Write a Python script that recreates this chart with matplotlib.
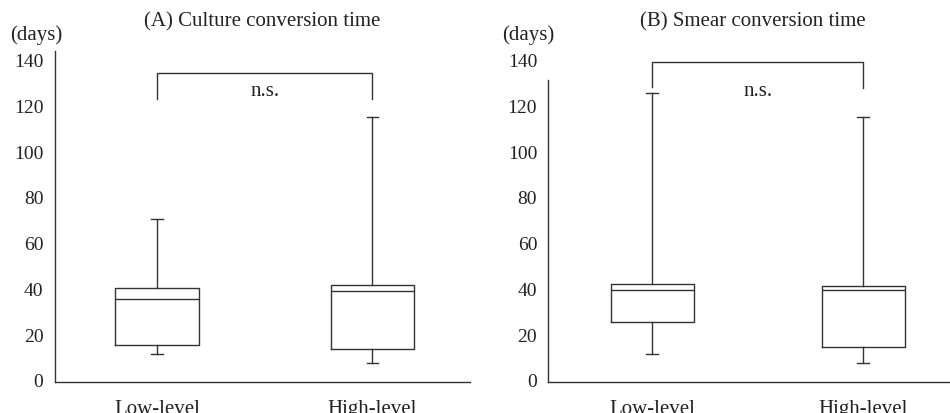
import matplotlib
matplotlib.use('Agg')
from matplotlib import pyplot as plt

plt.rcParams['font.family'] = ['Liberation Serif', 'DejaVu Serif']

LINE_COLOR = '#333333'
LW = 1.0

groups = ['Low-level', 'High-level']
y_ticks = [0, 20, 40, 60, 80, 100, 120, 140]

# (A) culture conversion time, days
culture_whislo = [11.2, 7.1]
culture_q1 = [15.3, 13.4]
culture_med = [35.2, 38.9]
culture_q3 = [40.0, 41.5]
culture_whishi = [70.4, 115.2]

# (B) smear conversion time, days
smear_whislo = [11.2, 7.3]
smear_q1 = [25.3, 14.1]
smear_med = [39.3, 39.4]
smear_q3 = [42.1, 40.9]
smear_whishi = [125.6, 115.2]

# bracket: (top, left leg end, right leg end)
culture_bracket = (134.3, 122.7, 122.7)
smear_bracket = (139.2, 128.2, 127.5)
sig_label = 'n.s.'


def makeStats(lo, q1, med, q3, hi):
    stats = []
    for i in range(len(lo)):
        stats.append({'whislo': lo[i], 'q1': q1[i], 'med': med[i],
                      'q3': q3[i], 'whishi': hi[i], 'fliers': []})
    return stats


def drawPanel(ax, stats, bracket, xlim, width, spine_top):
    line = dict(color=LINE_COLOR, linewidth=LW)
    ax.bxp(stats, positions=[1, 2], widths=width, showfliers=False,
           boxprops=line, whiskerprops=line, capprops=line,
           medianprops=line, capwidths=0.055)
    ax.set_xlim(*xlim)
    ax.set_ylim(-1, 144)
    ax.set_yticks(y_ticks)
    ax.set_xticks([1, 2])
    ax.set_xticklabels(groups, fontsize=15)
    ax.tick_params(axis='y', length=0, pad=8, labelsize=14, colors='#222222')
    ax.tick_params(axis='x', length=0, pad=12, colors='#222222')
    for s in ['top', 'right']:
        ax.spines[s].set_visible(False)
    for s in ['left', 'bottom']:
        ax.spines[s].set_color(LINE_COLOR)
        ax.spines[s].set_linewidth(LW)
    ax.spines['left'].set_bounds(-1, spine_top)
    top, l_end, r_end = bracket
    ax.plot([1, 1, 2, 2], [l_end, top, top, r_end], color=LINE_COLOR, lw=LW,
            clip_on=False)
    ax.text(1.5, 126.7, sig_label, ha='center', va='center', fontsize=15,
            color='#222222')


fig = plt.figure(figsize=(9.5, 4.14), dpi=100)
H = 414.0
W = 950.0
bottom = 1 - 383 / H
height = (383 - 51.7) / H

ax1 = fig.add_axes([54.5 / W, bottom, (470 - 54.5) / W, height])
drawPanel(ax1, makeStats(culture_whislo, culture_q1, culture_med, culture_q3, culture_whishi),
          culture_bracket, (0.524, 2.453), 0.388, 144)

ax2 = fig.add_axes([548.3 / W, bottom, (950 - 548.3) / W, height])
drawPanel(ax2, makeStats(smear_whislo, smear_q1, smear_med, smear_q3, smear_whishi),
          smear_bracket, (0.507, 2.412), 0.394, 131)

fig.text(262 / W, 1 - 21.7 / H, '(A) Culture conversion time', ha='center',
         va='center', fontsize=15, color='#222222')
fig.text(753 / W, 1 - 21.7 / H, '(B) Smear conversion time', ha='center',
         va='center', fontsize=15, color='#222222')
fig.text(10 / W, 1 - 35 / H, '(days)', ha='left', va='center', fontsize=15,
         color='#222222')
fig.text(501.7 / W, 1 - 35 / H, '(days)', ha='left', va='center', fontsize=15,
         color='#222222')

fig.savefig('out.png', dpi=100)
